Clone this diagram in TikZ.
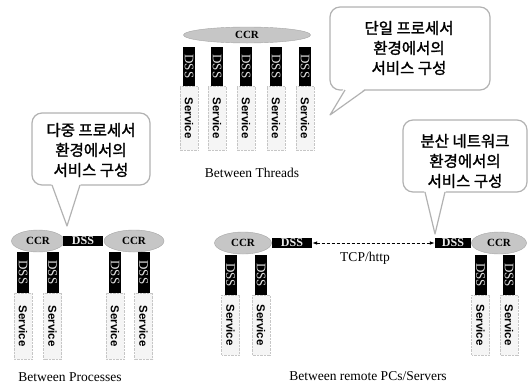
\documentclass[tikz,border=0pt]{standalone}
\usepackage{fontspec}
\setmainfont{Liberation Serif}
\setsansfont{Liberation Sans}
\newfontfamily\kor[FakeBold=1.5]{Noto Sans CJK KR}
\usetikzlibrary{arrows.meta,shapes.geometric}
\begin{document}
\begin{tikzpicture}[x=1pt,y=-1pt,
  ccr/.style={ellipse, draw=gray!70, fill=gray!45, inner sep=0pt,
    font=\bfseries\fontsize{11}{11}\selectfont},
  dssv/.style={fill=black, text=gray!25, rotate=-90, inner sep=0pt,
    minimum height=12pt, font=\fontsize{13}{13}\selectfont},
  dssh/.style={fill=black, text=gray!15, inner sep=0pt, minimum height=10pt,
    font=\bfseries\fontsize{12}{12}\selectfont},
  svc/.style={rotate=-90, draw=gray!45, densely dotted, fill=gray!8, inner sep=0pt,
    minimum height=18pt, font=\sffamily\bfseries\fontsize{11.5}{11.5}\selectfont},
  lbl/.style={font=\fontsize{13.5}{13.5}\selectfont},
  bubble/.style={draw=gray!60, line width=1.2pt, fill=white},
  btxt/.style={align=center, font=\kor\fontsize{15.5}{20}\selectfont}
]
\useasboundingbox (0,0) rectangle (530,386);

% ---------- Top group: Between Threads ----------
\node[ccr, minimum width=127pt, minimum height=16pt] (tccr) at (247,35) {CCR};
\foreach \i/\x in {1/189,2/217,3/246,4/276,5/305}{
  \node[svc, minimum width=64pt] (tsvc\i) at (\x,118) {Service};
  \node[dssv, minimum width=39pt] (tdss\i) at (\x,66.5) {DSS};
}
\node[lbl] (tlab) at (252,173) {Between Threads};

% ---------- Left group: Between Processes ----------
\node[ccr, minimum width=53pt, minimum height=22pt] (lccr1) at (38,241) {CCR};
\node[ccr, minimum width=60pt, minimum height=22pt] (lccr2) at (134,241) {CCR};
\node[dssh, minimum width=40pt] (ldss) at (83,241) {DSS};
\foreach \i/\x in {1/23,2/52.5,3/115,4/143.5}{
  \node[svc, minimum width=66pt] (lsvc\i) at (\x,326) {Service};
  \node[dssv, minimum width=41pt] (ldssv\i) at (\x,272.5) {DSS};
}
\node[lbl] (llab) at (70,377) {Between Processes};

% ---------- Right group: Between remote PCs/Servers ----------
\node[ccr, minimum width=57pt, minimum height=22pt] (rccr1) at (243,243) {CCR};
\node[ccr, minimum width=55pt, minimum height=22pt] (rccr2) at (499,243) {CCR};
\node[dssh, minimum width=40pt] (rdss1) at (292,243) {DSS};
\node[dssh, minimum width=36pt] (rdss2) at (453,243) {DSS};
\draw[densely dashed, line width=1pt, {Latex[length=5pt]}-{Latex[length=5pt]}]
  (rdss1.east) -- (rdss2.west);
\node[lbl] (tcp) at (365,258) {TCP/http};
\foreach \i/\x in {1/230.5,2/261,3/480.5,4/509}{
  \node[svc, minimum width=60pt] (rsvc\i) at (\x,325) {Service};
  \node[dssv, minimum width=40pt] (rdssv\i) at (\x,275) {DSS};
}
\node[lbl] (rlab) at (368,376) {Between remote PCs/Servers};

% ---------- Bubbles ----------
% top right
\draw[bubble, rounded corners=10pt] (330,7) rectangle (490,90);
\fill[white] (344,88) -- (330,114) -- (366,88) -- cycle;
\coordinate (tb1) at (345,90); \coordinate (tb2) at (365,90); \coordinate (tbp) at (330,115);
\draw[draw=gray!60, line width=1.2pt, line join=round] (tb1) -- (tbp) -- (tb2);
\node[btxt] (tbt) at (409,48) {단일 프로세서\\환경에서의\\서비스 구성};

% left
\draw[bubble, rounded corners=10pt] (32,113) rectangle (150,185);
\fill[white] (51,183) -- (67,225) -- (81,183) -- cycle;
\coordinate (lb1) at (52,185); \coordinate (lb2) at (80,185); \coordinate (lbp) at (67,226);
\draw[draw=gray!60, line width=1.2pt, line join=round] (lb1) -- (lbp) -- (lb2);
\node[btxt] (lbt) at (91,150) {다중 프로세서\\환경에서의\\서비스 구성};

% right
\draw[bubble, rounded corners=10pt] (403,120) rectangle (527,192);
\fill[white] (424,190) -- (435,233) -- (446,190) -- cycle;
\coordinate (rb1) at (425,192); \coordinate (rb2) at (445,192); \coordinate (rbp) at (435,234);
\draw[draw=gray!60, line width=1.2pt, line join=round] (rb1) -- (rbp) -- (rb2);
\node[btxt] (rbt) at (465,161) {분산 네트워크\\환경에서의\\서비스 구성};
\end{tikzpicture}
\end{document}
